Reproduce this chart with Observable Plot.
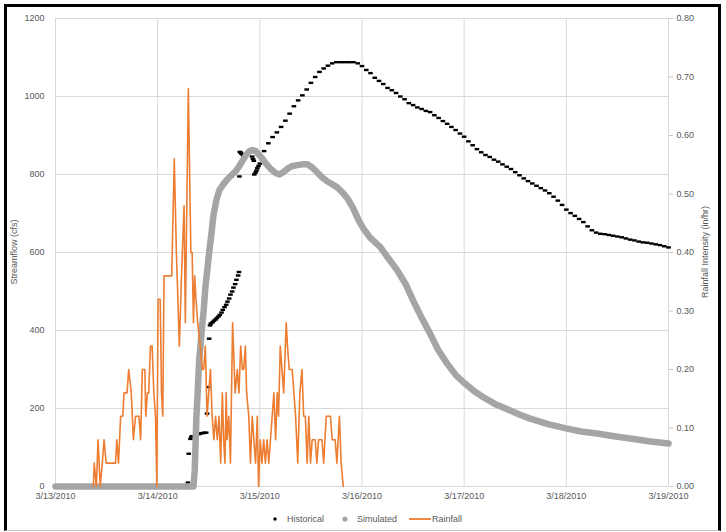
<!DOCTYPE html>
<html>
<head>
<meta charset="utf-8">
<script src="https://cdn.jsdelivr.net/npm/d3@7"></script>
<script src="https://cdn.jsdelivr.net/npm/@observablehq/plot@0.6"></script>
<style>
  html, body { margin: 0; padding: 0; background: #fff; }
  body { width: 726px; height: 532px; position: relative; overflow: hidden;
         font-family: "Liberation Sans", Arial, sans-serif; color: #595959; }
  #chart { position: absolute; left: 0; top: 0; }
  #frame { position: absolute; left: 4px; top: 4px; width: 711px; height: 523px;
           border-left: 3px solid #000; border-right: 3px solid #000; border-top: 3px solid #000;
           border-bottom: 1px solid #c4c4c4; pointer-events: none; }
  .atitle { position: absolute; font-size: 9px; white-space: nowrap; color: #595959;
            transform: translate(-50%, -50%) rotate(-90deg); }
  .leg { position: absolute; top: 513px; font-size: 9px; color: #595959; line-height: 12px; white-space: nowrap; }
  .leg svg { position: absolute; top: 0; }
</style>
</head>
<body>
<div id="chart"></div>
<div id="frame"></div>
<div class="atitle" id="ytl" style="left:14px; top:252px;"></div>
<div class="atitle" id="ytr" style="left:705px; top:252px;"></div>
<div id="legend"></div>
<script>
// ---- Axis / tick data ----
const dayHours = [0, 24, 48, 72, 96, 120, 144];
const dayLabels = ["3/13/2010", "3/14/2010", "3/15/2010", "3/16/2010", "3/17/2010", "3/18/2010", "3/19/2010"];
const flowTicks = [0, 200, 400, 600, 800, 1000, 1200];
const rainTicks = [0, 0.1, 0.2, 0.3, 0.4, 0.5, 0.6, 0.7, 0.8];
const leftTitle = "Streamflow (cfs)";
const rightTitle = "Rainfall Intensity (in/hr)";
const seriesNames = ["Historical", "Simulated", "Rainfall"];

// ---- Rainfall (hours after 3/13/2010 00:00, in/hr) ----
const rainHour = [
  8.9, 9.1, 9.6, 10.0, 10.5, 11.0, 11.4, 11.9, 13.0, 14.1,
  14.4, 14.8, 15.3, 15.8, 16.1, 16.8, 17.2, 17.8, 18.3, 18.8,
  19.6, 20.0, 20.4, 21.0, 21.2, 21.6, 21.9, 22.3, 22.7, 23.1,
  23.5, 23.8, 24.1, 24.6, 24.9, 25.2, 25.5, 26.1, 26.7, 27.3,
  27.9, 28.4, 29.1, 29.6, 30.2, 30.5, 31.2, 31.8, 32.1, 32.4,
  32.7, 33.0, 33.4, 34.0, 34.5, 34.8, 35.2, 35.6, 36.0, 36.4,
  36.8, 37.2, 37.6, 38.0, 38.4, 38.8, 39.2, 39.5, 39.8, 40.1,
  40.3, 40.7, 41.1, 41.6, 42.2, 42.7, 43.1, 43.5, 43.9, 44.2,
  44.6, 44.9, 45.4, 45.8, 46.2, 46.6, 47.0, 47.4, 47.7, 48.1,
  48.5, 48.9, 49.3, 49.7, 50.1, 50.5, 50.9, 51.3, 51.7, 52.1,
  52.4, 52.8, 53.2, 53.6, 54.2, 54.5, 54.9, 55.6, 56.0, 56.4,
  56.9, 57.4, 57.9, 58.3, 58.7, 59.1, 59.5, 59.9, 60.3, 61.0,
  61.4, 61.8, 62.6, 63.0, 63.6, 64.6, 65.0, 65.7, 66.1, 66.7,
  67.1, 67.6
];
const rainValue = [
  0, 0.04, 0, 0.08, 0, 0.04, 0.08, 0.04, 0.04, 0.04,
  0.08, 0.04, 0.12, 0.12, 0.16, 0.16, 0.20, 0.16, 0.08, 0.12,
  0.12, 0.08, 0.20, 0.20, 0.12, 0.16, 0.16, 0.24, 0.24, 0.16,
  0.12, 0, 0.32, 0.32, 0.16, 0.12, 0.36, 0.36, 0.36, 0.36,
  0.56, 0.40, 0.24, 0.36, 0.48, 0.28, 0.68, 0.40, 0.40, 0.28,
  0.36, 0.32, 0.28, 0.24, 0.20, 0.20, 0.24, 0.12, 0.16, 0.20,
  0.12, 0.08, 0.12, 0.08, 0.12, 0.04, 0.16, 0.08, 0.04, 0.16,
  0.08, 0.12, 0.04, 0.28, 0.16, 0.20, 0.16, 0.24, 0.20, 0.20,
  0.24, 0.16, 0.12, 0.04, 0.12, 0.08, 0.04, 0.12, 0, 0.08,
  0.04, 0.08, 0.04, 0.08, 0.04, 0.08, 0.12, 0.16, 0.08, 0.16,
  0.12, 0.24, 0.20, 0.16, 0.28, 0.24, 0.20, 0.20, 0.16, 0.12,
  0.04, 0.16, 0.20, 0.12, 0.12, 0.04, 0.12, 0.04, 0.08, 0.08,
  0.04, 0.08, 0.08, 0.04, 0.12, 0.12, 0.08, 0.08, 0.04, 0.12,
  0.04, 0
];

// ---- Historical streamflow (hours, cfs) ----
const histHour = [
  31.1, 31.3, 31.7, 31.9, 32.1, 33.6, 34.0, 34.3, 34.7, 35.0,
  35.4, 35.6, 35.9, 36.1, 36.3, 36.5, 36.9, 37.2, 37.6, 37.9,
  38.3, 38.6, 39.0, 39.3, 39.7, 40.1, 40.4, 40.8, 41.1, 41.5,
  41.8, 42.2, 42.5, 42.9, 43.1, 43.2, 43.3, 43.5, 43.7, 44.0,
  44.2, 46.2, 46.4, 46.6, 46.7, 47.0, 47.2, 47.4, 47.7,
  48, 49, 50, 51, 52, 53, 54, 55, 56, 57, 58, 59, 60, 61, 62, 63, 64, 65, 66, 67,
  68, 69, 70, 71, 72, 73, 74, 75, 76, 77, 78, 79, 80, 81, 82, 83, 84, 85, 86, 87,
  88, 89, 90, 91, 92, 93, 94, 95, 96, 97, 98, 99, 100, 101, 102, 103, 104, 105, 106, 107,
  108, 109, 110, 111, 112, 113, 114, 115, 116, 117, 118, 119, 120, 121, 122, 123, 124, 125, 126, 127,
  128, 129, 130, 131, 132, 133, 134, 135, 136, 137, 138, 139, 140, 141, 142, 143, 144
];
const histFlow = [
  10, 84, 122, 127, 129, 134, 136, 137, 137, 138,
  138, 187, 255, 379, 413, 418, 421, 425, 428, 432,
  436, 440, 446, 453, 460, 466, 474, 482, 492, 500,
  510, 519, 530, 541, 550, 795, 858, 856, 853, 850,
  847, 846, 840, 835, 800, 805, 810, 816, 822,
  828, 860, 880, 896, 908, 922, 938, 956, 975, 990, 1003, 1018, 1035, 1050, 1063, 1072, 1079, 1085, 1088, 1088,
  1088, 1088, 1088, 1085, 1078, 1068, 1060, 1048, 1040, 1032, 1022, 1016, 1009, 1000, 993, 983, 978, 972, 968, 963,
  960, 952, 945, 937, 930, 922, 914, 905, 897, 885, 875, 865, 857, 850, 845, 838, 833, 826, 820, 814,
  806, 798, 790, 783, 777, 771, 765, 759, 752, 743, 733, 722, 710, 701, 694, 686, 678, 667, 657, 651,
  648, 647, 645, 643, 641, 639, 636, 633, 631, 628, 626, 625, 623, 621, 619, 616, 613
];

// ---- Simulated streamflow (hours, cfs) ----
const simHour = [
  0, 32.4, 32.7, 32.9, 33.1, 33.4, 33.6, 33.8, 34.1, 34.3,
  34.8, 35.2, 35.7, 36.2, 36.7, 37.1, 37.8, 38.5, 39.5, 40.4,
  41.3, 42.3, 43.2, 44.2, 44.9, 45.6, 46.3, 47.0, 47.7, 48.4,
  49.3, 50.5, 51.7, 52.6, 53.5, 54.5, 55.7, 56.8, 58.0, 59.2,
  60.3, 61.5, 62.7, 63.9, 65.0, 66.2, 67.6, 68.8, 70.0, 71.1,
  72.3, 73.9, 76.3, 78.2, 80.3, 82.2, 84.0, 85.9, 88.0, 89.9,
  92.0, 94.1, 96.2, 98.3, 100.5, 103.5, 106.8, 109.1, 111.5, 115.7,
  119.9, 123.5, 127.2, 131.2, 135.0, 139.4, 144
];
const simFlow = [
  0, 0, 40, 110, 180, 240, 290, 330, 365, 395,
  450, 510, 560, 610, 655, 695, 735, 760, 776, 788,
  798, 808, 822, 840, 852, 860, 863, 860, 852, 843,
  830, 815, 804, 800, 806, 815, 822, 824, 826, 826,
  818, 805, 792, 782, 775, 767, 752, 735, 712, 685,
  662, 638, 614, 585, 554, 520, 477, 435, 392, 350,
  315, 285, 264, 245, 229, 210, 195, 184, 174, 160,
  149, 141, 136, 129, 123, 116, 110
];

// ---- Build tables ----
const FLOW_MAX = flowTicks[flowTicks.length - 1];
const RAIN_MAX = rainTicks[rainTicks.length - 1];
const k = FLOW_MAX / RAIN_MAX;
const rain = rainHour.map((h, i) => ({h, v: rainValue[i]}));
const hist = histHour.map((h, i) => ({h, v: histFlow[i]}));
const sim = simHour.map((h, i) => ({h, v: simFlow[i]}));

// small horizontal dash marker (Excel-like stepped marker look)
const dashSymbol = { draw(ctx) { ctx.moveTo(-2.3, -1.2); ctx.lineTo(2.3, -1.2); ctx.lineTo(2.3, 1.2); ctx.lineTo(-2.3, 1.2); ctx.closePath(); } };

const grid = "#d9d9d9";
const chart = Plot.plot({
  width: 726, height: 510,
  marginLeft: 55, marginRight: 58, marginTop: 18, marginBottom: 24,
  x: {type: "linear", domain: [dayHours[0], dayHours[dayHours.length - 1]]},
  y: {domain: [0, FLOW_MAX]},
  style: {fontFamily: "'Liberation Sans', Arial, sans-serif", fontSize: "9px", color: "#595959", background: "transparent"},
  marks: [
    Plot.gridY(flowTicks, {stroke: grid, strokeOpacity: 1}),
    Plot.gridX(dayHours, {stroke: grid, strokeOpacity: 1}),
    Plot.axisY(flowTicks, {anchor: "left", tickSize: 0, tickPadding: 11, tickFormat: d => String(d), label: null}),
    Plot.axisY(rainTicks.map(t => t * k), {anchor: "right", tickSize: 4, tickPadding: 4, stroke: "#c8c8c8",
      tickFormat: d => (d / k).toFixed(2), label: null}),
    Plot.axisX(dayHours, {anchor: "bottom", tickSize: 0, tickPadding: 6,
      tickFormat: d => dayLabels[dayHours.indexOf(d)], label: null}),
    Plot.dot(hist, {x: "h", y: "v", r: 2, symbol: dashSymbol, fill: "#000", stroke: null}),
    Plot.line(sim, {x: "h", y: "v", stroke: "#a5a5a5", strokeWidth: 6.5, strokeLinecap: "round", strokeLinejoin: "round"}),
    Plot.line(rain, {x: "h", y: d => d.v * k, stroke: "#ed7d31", strokeWidth: 1.6, strokeLinejoin: "round"})
  ]
});
document.getElementById("chart").appendChild(chart);

document.getElementById("ytl").textContent = leftTitle;
document.getElementById("ytr").textContent = rightTitle;

// ---- Legend ----
const legend = document.getElementById("legend");
const legItems = [
  {left: 271, text: seriesNames[0], sw: '<svg width="10" height="12"><circle cx="4" cy="6" r="1.7" fill="#000"/></svg>', pad: 16},
  {left: 341, text: seriesNames[1], sw: '<svg width="10" height="12"><circle cx="4" cy="6" r="2.6" fill="#a5a5a5"/></svg>', pad: 16},
  {left: 408, text: seriesNames[2], sw: '<svg width="24" height="12"><line x1="1" y1="6" x2="23" y2="6" stroke="#ed7d31" stroke-width="1.8"/></svg>', pad: 24}
];
legItems.forEach(it => {
  const d = document.createElement("div");
  d.className = "leg";
  d.style.left = it.left + "px";
  d.innerHTML = it.sw + '<span style="margin-left:' + it.pad + 'px">' + it.text + '</span>';
  legend.appendChild(d);
});
</script>
</body>
</html>
